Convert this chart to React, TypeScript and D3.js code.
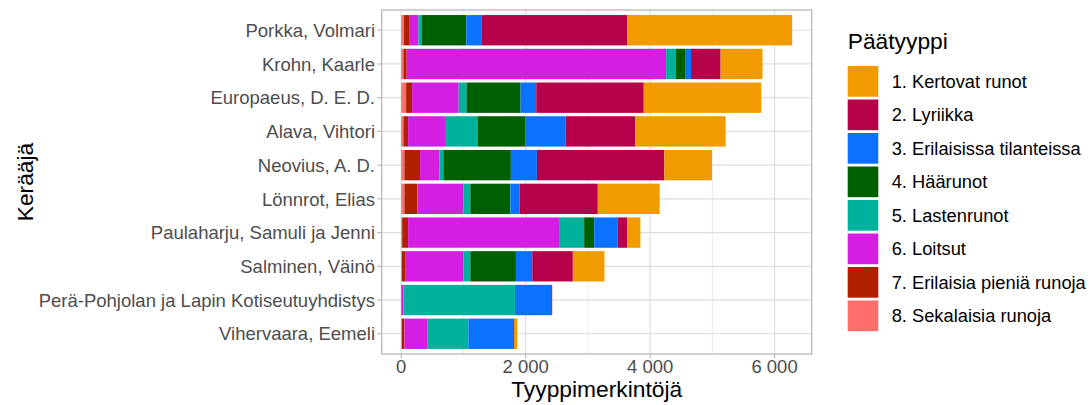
import React from "react";
import * as d3 from "d3";

const collectors = [
  "Porkka, Volmari",
  "Krohn, Kaarle",
  "Europaeus, D. E. D.",
  "Alava, Vihtori",
  "Neovius, A. D.",
  "Lönnrot, Elias",
  "Paulaharju, Samuli ja Jenni",
  "Salminen, Väinö",
  "Perä-Pohjolan ja Lapin Kotiseutuyhdistys",
  "Vihervaara, Eemeli",
];

const typeNames = [
  "1. Kertovat runot",
  "2. Lyriikka",
  "3. Erilaisissa tilanteissa",
  "4. Häärunot",
  "5. Lastenrunot",
  "6. Loitsut",
  "7. Erilaisia pieniä runoja",
  "8. Sekalaisia runoja",
];

const typeColors = [
  "#F29B00",
  "#B60049",
  "#0A72FF",
  "#005F00",
  "#00B29C",
  "#D61EE2",
  "#AF2000",
  "#FF6D6D",
];

const kertovat = [2648, 674, 1889, 1455, 766, 995, 213, 508, 0, 54];
const lyriikka = [2339, 475, 1728, 1119, 2049, 1257, 156, 652, 16, 16];
const erilaisissa = [251, 96, 252, 642, 418, 149, 374, 263, 583, 717];
const haarunot = [712, 151, 867, 765, 1085, 642, 161, 732, 0, 0];
const lastenrunot = [58, 154, 128, 530, 64, 113, 391, 113, 1792, 653];
const loitsut = [150, 4169, 749, 593, 311, 738, 2439, 926, 35, 374];
const pienia = [80, 53, 96, 75, 251, 209, 95, 62, 0, 41];
const sekalaisia = [45, 35, 78, 35, 51, 51, 15, 10, 0, 10];

const xTicks = [0, 2000, 4000, 6000];
const xMinor = [1000, 3000, 5000];

const seriesValues = [kertovat, lyriikka, erilaisissa, haarunot, lastenrunot, loitsut, pienia, sekalaisia];

export default function App() {
  const W = 1091;
  const H = 405;
  const panel = { left: 381.7, right: 811.7, top: 10, bottom: 354 };
  const font = "'Liberation Sans', Arial, Helvetica, sans-serif";

  const rows = collectors.map((c, i) => {
    const r: Record<string, any> = { collector: c };
    typeNames.forEach((t, j) => (r[t] = seriesValues[j][i]));
    return r;
  });

  // stacking order: type 8 on the left, type 1 on the right
  const stackKeys = [...typeNames].reverse();
  const stacked = d3.stack<any>().keys(stackKeys)(rows);

  const maxTotal = d3.max(rows, (r) => d3.sum(typeNames, (t) => r[t])) as number;
  const x = d3
    .scaleLinear()
    .domain([-0.05 * maxTotal, 1.05 * maxTotal])
    .range([panel.left, panel.right]);

  const y = d3
    .scaleBand<string>()
    .domain(collectors)
    .range([panel.top, panel.bottom])
    .paddingInner(0.1)
    .paddingOuter(0.15);

  const fmtTick = (v: number) => (v === 0 ? "0" : d3.format(",")(v).replace(/,/g, " "));

  const colorOf = d3.scaleOrdinal<string, string>().domain(typeNames).range(typeColors);

  const keyX = 847.7;
  const keyY0 = 66;
  const keyStep = 33.5;
  const keyW = 30.6;
  const keyH = 30.7;

  return (
    <svg
      width={W}
      height={H}
      style={{ position: "absolute", left: 0, top: 0, background: "#fff", fontFamily: font }}
    >
      <rect x={0} y={0} width={W} height={H} fill="#fff" />
      {/* minor grid */}
      {xMinor.map((v) => (
        <line key={"mi" + v} x1={x(v)} x2={x(v)} y1={panel.top} y2={panel.bottom} stroke="#e6e6e6" strokeWidth={0.8} />
      ))}
      {/* major grid */}
      {xTicks.map((v) => (
        <line key={"ma" + v} x1={x(v)} x2={x(v)} y1={panel.top} y2={panel.bottom} stroke="#dedede" strokeWidth={1.2} />
      ))}
      {collectors.map((c) => (
        <line
          key={"hg" + c}
          x1={panel.left}
          x2={panel.right}
          y1={(y(c) as number) + y.bandwidth() / 2}
          y2={(y(c) as number) + y.bandwidth() / 2}
          stroke="#dedede"
          strokeWidth={1.2}
        />
      ))}
      {/* bars */}
      {stacked.map((s) => (
        <g key={s.key} fill={colorOf(s.key)}>
          {s.map((d, i) => {
            const w = x(d[1]) - x(d[0]);
            if (w <= 0) return null;
            return (
              <rect
                key={i}
                x={x(d[0])}
                y={y(collectors[i]) as number}
                width={w}
                height={y.bandwidth()}
              />
            );
          })}
        </g>
      ))}
      {/* panel border */}
      <rect
        x={panel.left}
        y={panel.top}
        width={panel.right - panel.left}
        height={panel.bottom - panel.top}
        fill="none"
        stroke="#b3b3b3"
        strokeWidth={1.2}
      />
      {/* y ticks and labels */}
      {collectors.map((c) => {
        const cy = (y(c) as number) + y.bandwidth() / 2;
        return (
          <g key={"yt" + c}>
            <line x1={panel.left - 4.5} x2={panel.left} y1={cy} y2={cy} stroke="#b3b3b3" strokeWidth={1.1} />
            <text x={375} y={cy} dy="0.36em" textAnchor="end" fontSize={18.5} fill="#4d4d4d">
              {c}
            </text>
          </g>
        );
      })}
      {/* x ticks and labels */}
      {xTicks.map((v) => (
        <g key={"xt" + v}>
          <line x1={x(v)} x2={x(v)} y1={panel.bottom} y2={panel.bottom + 4.5} stroke="#b3b3b3" strokeWidth={1.1} />
          <text x={x(v)} y={373.3} textAnchor="middle" fontSize={18.5} fill="#4d4d4d">
            {fmtTick(v)}
          </text>
        </g>
      ))}
      {/* axis titles */}
      <text
        x={(panel.left + panel.right) / 2}
        y={396.5}
        textAnchor="middle"
        fontSize={22.8}
        fill="#000"
      >
        Tyyppimerkintöjä
      </text>
      <text
        transform={`translate(${33},${(panel.top + panel.bottom) / 2}) rotate(-90)`}
        textAnchor="middle"
        fontSize={22.8}
        fill="#000"
      >
        Kerääjä
      </text>
      {/* legend */}
      <text x={keyX} y={48.5} fontSize={22.8} fill="#000">
        Päätyyppi
      </text>
      {typeNames.map((t, i) => {
        const ky = keyY0 + i * keyStep;
        return (
          <g key={"lg" + t}>
            <rect x={keyX} y={ky} width={keyW} height={keyH} fill={colorOf(t)} />
            <text x={891.7} y={ky + keyH / 2} dy="0.36em" fontSize={18.3} fill="#000">
              {t}
            </text>
          </g>
        );
      })}
    </svg>
  );
}
